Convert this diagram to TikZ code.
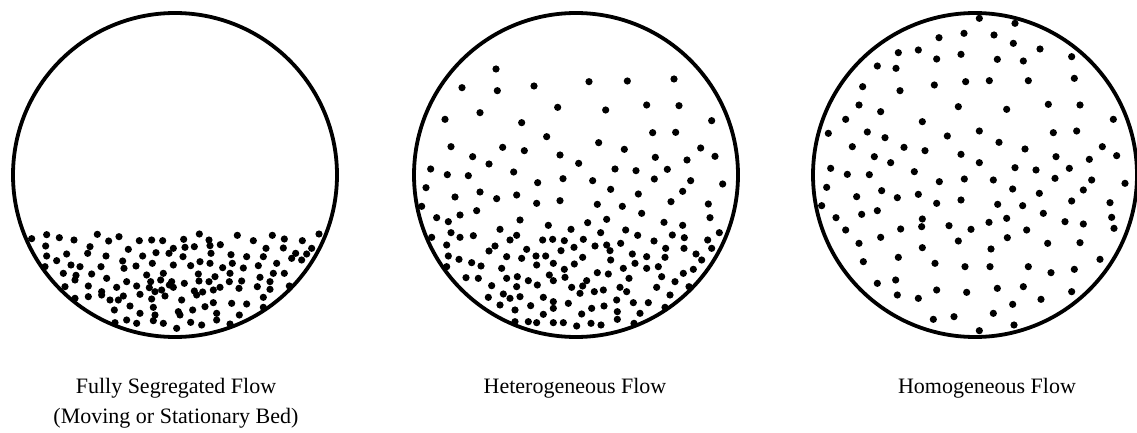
\documentclass[tikz,border=0pt]{standalone}
\usepackage{fontspec}
\setmainfont{Liberation Serif}
\begin{document}
\begin{tikzpicture}[x=1pt,y=1pt,
  pipe/.style={line width=3.8pt},
  grain/.style={fill=black},
  caption/.style={font=\fontsize{22}{30}\selectfont, align=center, inner sep=0pt}]
\useasboundingbox (0,0) rectangle (1137,432);
\clip (0,0) rectangle (1137,432);
% pipes
\draw[pipe] (175,257) circle[radius=162];
\draw[pipe] (576,257) circle[radius=162];
\draw[pipe] (975,257) circle[radius=162];
% grains: fully segregated
\begin{scope}[shift={(0,432)},xscale=1/3,yscale=-1/3]
\foreach \x/\y in {95/716,140/704,178/713,222/720,292/703,326/723,357/710,418/722,455/720,488/722,551/718,598/702,627/720,712/706,760/722,817/706,853/717,907/722,957/702,
137/738,270/740,385/748,520/745,555/742,583/740,630/737,661/734,798/745,850/744,935/745,
140/768,200/762,263/760,318/768,428/768,468/758,507/760,549/770,633/760,693/764,740/770,790/770,887/760,920/762,
170/782,213/795,240/800,303/800,368/783,408/798,457/790,520/795,572/797,630/790,668/803,697/790,730/804,775/797,830/790,875/775,905/780,135/800,600/785,
190/820,228/826,275/822,320/835,372/805,440/825,490/820,595/822,645/830,690/820,780/832,820/820,853/820,225/840,380/845,452/845,482/840,515/845,553/850,597/843,627/845,688/845,725/843,810/845,
195/860,265/858,350/862,410/858,448/863,508/855,520/862,583/873,608/876,660/862,717/865,772/860,868/858,305/875,465/875,485/870,640/870,810/868,
225/895,265/890,305/885,330/900,355/900,420/883,455/897,495/888,545/900,590/885,640/908,695/910,740/912,790/892,370/888,
343/930,390/918,420/940,460/922,535/935,578/930,615/920,650/940,718/945,790/922,
345/968,380/960,410/970,460/962,490/970,530/985,540/945,572/967,605/975,650/960,690/972,465/945}
  \fill[grain] (\x,\y) circle[radius=10.8];
\end{scope}
% grains: heterogeneous
\begin{scope}[shift={(380,432)},xscale=1/3,yscale=-1/3]
\foreach \x/\y in {348/207,246/263,352/272,462/258,627/245,742/243,882/237,
300/338,533/322,677/330,800/315,897/317,195/358,425/368,995/362,500/410,818/398,887/397,
213/440,368/442,433/452,656/428,733/448,962/444,278/470,327/492,540/465,826/472,921/480,1005/469,
152/507,202/524,265/527,401/516,596/490,705/507,768/512,862/508,
138/563,473/548,549/536,638/542,823/537,932/542,1028/552,
300/576,225/591,350/596,410/585,692/568,775/582,908/574,
125/619,290/632,470/610,540/602,652/613,727/619,873/605,985/612,
170/653,240/645,205/665,420/660,505/676,623/668,680/658,785/640,852/667,908/676,990/653,
155/712,213/698,240/712,280/707,360/688,410/706,573/688,662/698,737/690,773/706,877/705,913/713,983/720,1018/698,
200/735,327/753,345/738,390/720,440/748,488/720,518/718,553/722,582/742,610/718,645/738,680/735,722/730,822/723,857/745,912/745,995/745,
205/768,237/778,275/788,303/798,380/770,425/775,468/768,497/768,543/752,608/772,690/752,692/780,757/762,800/770,855/772,948/762,965/780,
200/800,365/805,470/795,520/790,553/808,583/792,652/818,685/822,730/805,765/790,800/805,835/800,910/820,940/808,
258/833,295/835,380/835,412/830,445/842,508/825,520/842,555/832,620/842,747/835,845/830,885/845,
335/857,370/882,410/860,472/855,575/862,608/858,643/875,670/870,720/862,740/875,830/862,927/860,
325/892,390/895,420/890,490/892,520/905,565/910,600/880,710/900,760/908,805/908,870/885,
360/915,405/930,452/917,490/943,520/925,605/942,635/925,672/918,712/935,780/940,855/922,
405/965,445/965,470/968,520/968,550/968,590/978,633/970,663/975,712/958,762/970}
  \fill[grain] (\x,\y) circle[radius=10.8];
\end{scope}
% grains: homogeneous
\begin{scope}[shift={(760,432)},xscale=1/3,yscale=-1/3]
\foreach \x/\y in {658/55,765/70,537/113,612/100,702/105,760/130,840/147,935/170,
415/158,475/150,530/177,603/163,712/178,790/183,352/198,408/205,943/235,
308/260,420/272,523/255,617/245,688/242,805/242,
297/315,362/335,595/320,740/328,865/313,960/315,257/358,487/365,1060/358,
205/400,322/396,375/413,562/408,658/393,880/398,950/393,
277/440,432/442,495/452,717/427,795/447,1027/440,
343/470,392/488,603/463,658/488,888/470,988/478,1070/467,
212/505,262/523,328/524,463/515,765/503,828/510,928/505,
200/562,538/545,613/537,700/540,885/535,995/540,1095/550,
290/590,365/572,412/593,475/583,758/567,838/580,970/570,
185/617,305/643,352/632,530/610,603/600,713/613,788/617,935/603,1050/608,
228/653,487/657,740/655,850/640,1055/652,
257/690,422/687,485/680,567/677,633/688,687/667,800/690,915/665,970/672,1062/685,
297/730,362/712,595/723,742/713,863/730,960/728,
310/785,415/772,487/743,693/747,1020/778,
525/790,615/800,690/800,805/800,873/818,943/808,
352/850,407/840,712/865,790/860,
412/885,475/895,530/870,620/877,843/898,935/875,
758/913,700/940,520/958,582/950,658/992,762/975}
  \fill[grain] (\x,\y) circle[radius=10.8];
\end{scope}
% captions
\node[caption] (capA) at (176,29) {Fully Segregated Flow\\(Moving or Stationary Bed)};
\node[caption] (capB) at (575,44) {Heterogeneous Flow};
\node[caption] (capC) at (987,44) {Homogeneous Flow};
\end{tikzpicture}
\end{document}
